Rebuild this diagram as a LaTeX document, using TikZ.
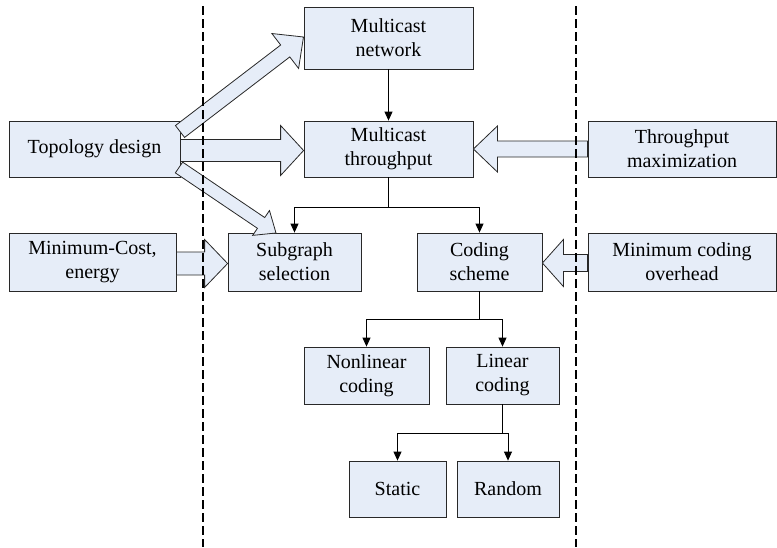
\documentclass[tikz,border=0pt]{standalone}
\usepackage{fontspec}
\setmainfont{Liberation Serif}
\usetikzlibrary{calc,arrows.meta}
\definecolor{boxfill}{RGB}{230,237,248}
\definecolor{edge}{RGB}{40,40,40}
\newcommand{\blockarr}[5]{%
  \path ($(#2)!#5!(#1)$) coordinate (hb);
  \filldraw[barrow] ($(#1)!#3!90:(#2)$) -- ($(hb)!#3!90:(#2)$) -- ($(hb)!#4!90:(#2)$) -- (#2)
    -- ($(hb)!#4!-90:(#2)$) -- ($(hb)!#3!-90:(#2)$) -- ($(#1)!#3!-90:(#2)$) -- cycle;}
\begin{document}
\begin{tikzpicture}[x=1pt,y=-1pt,
  box/.style={draw=edge,fill=boxfill,line width=0.8pt,inner sep=1pt,align=center,
    font=\fontsize{20}{24}\selectfont},
  barrow/.style={draw=edge,fill=boxfill,line width=0.8pt,line join=miter},
  arr/.style={draw=black,line width=0.8pt,-{Triangle[width=8pt,length=9pt]}},
  dashline/.style={draw=black,line width=1.1pt,dash pattern=on 9pt off 4pt}]
\useasboundingbox (0,0) rectangle (777,547);
% boxes
\node[box,minimum width=169pt,minimum height=62pt] (MN) at (388.5,38) {Multicast\\network};
\node[box,minimum width=169pt,minimum height=56pt] (MT) at (388.5,149) {Multicast\\throughput};
\node[box,minimum width=171pt,minimum height=56pt] (TD) at (94.5,149) {Topology design};
\node[box,minimum width=188pt,minimum height=56pt] (TM) at (682,149) {Throughput\\maximization};
\node[box,minimum width=133pt,minimum height=58pt] (SS) at (294.5,262) {Subgraph\\selection};
\node[box,minimum width=167pt,minimum height=58pt] (MC) at (92.5,262) {Minimum-Cost,\\energy};
\node[box,minimum width=125pt,minimum height=58pt] (CS) at (479.5,262) {Coding\\scheme};
\node[box,minimum width=188pt,minimum height=58pt] (MCO) at (682,262) {Minimum coding\\overhead};
\node[box,minimum width=125pt,minimum height=57pt] (NL) at (366.5,375.5) {Nonlinear\\coding};
\node[box,minimum width=113pt,minimum height=57pt] (LC) at (502.5,375.5) {Linear\\coding};
\node[box,minimum width=97pt,minimum height=56pt] (ST) at (397.5,489) {Static};
\node[box,minimum width=102pt,minimum height=56pt] (RA) at (508,489) {Random};
% thin connectors
\draw[arr] (MN) -- (MT);
\draw[arr] (MT.south) -- ++(0,30) -| (SS.north);
\draw[arr] (MT.south) -- ++(0,30) -| (CS.north);
\draw[arr] (CS.south) -- ++(0,28) -| (NL.north);
\draw[arr] (CS.south) -- ++(0,28) -| (LC.north);
\draw[arr] (LC.south) -- ++(0,29) -| (ST.north);
\draw[arr] (LC.south) -- ++(0,29) -| (RA.north);
% block arrows
\coordinate (a1s) at (180,131.5); \coordinate (a1e) at (303.5,37);
\blockarr{a1s}{a1e}{7.5pt}{22pt}{23pt}
\coordinate (a2s) at (TD.east |- 0,150.5); \coordinate (a2e) at (MT.west |- 0,150.5);
\blockarr{a2s}{a2e}{11pt}{25pt}{23pt}
\coordinate (a3s) at (179,167.5); \coordinate (a3e) at (276,233);
\blockarr{a3s}{a3e}{6.5pt}{15pt}{18pt}
\coordinate (a4s) at (MC.east |- 0,263.5); \coordinate (a4e) at (SS.west |- 0,263.5);
\blockarr{a4s}{a4e}{11.5pt}{24pt}{23pt}
\coordinate (a5s) at (TM.west |- 0,149); \coordinate (a5e) at (MT.east |- 0,149);
\blockarr{a5s}{a5e}{8pt}{23pt}{24pt}
\coordinate (a6s) at (MCO.west |- 0,263); \coordinate (a6e) at (CS.east |- 0,263);
\blockarr{a6s}{a6e}{8.5pt}{23.5pt}{21pt}
% dashed separators
\coordinate (d1t) at (203,6); \coordinate (d1b) at (203,547);
\coordinate (d2t) at (576,6); \coordinate (d2b) at (576,547);
\draw[dashline] (d1t) -- (d1b);
\draw[dashline] (d2t) -- (d2b);
\end{tikzpicture}
\end{document}
